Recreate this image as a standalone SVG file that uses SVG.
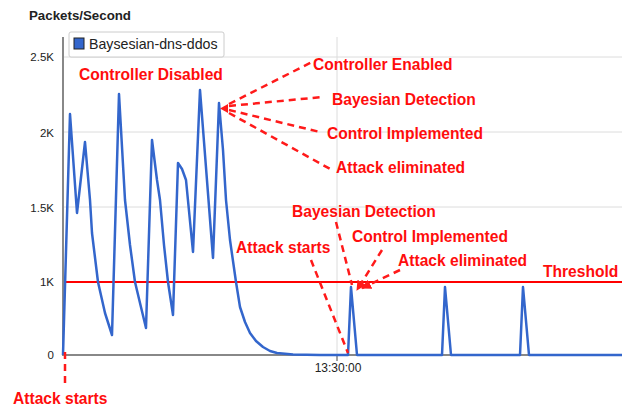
<svg xmlns="http://www.w3.org/2000/svg" width="622" height="407" viewBox="0 0 622 407">
<style>
.grid{stroke:#dcdcdc;stroke-width:1;fill:none}
.axis{stroke:#888;stroke-width:2;fill:none}
.ylab{font-family:"Liberation Sans",Arial,sans-serif;font-size:11.5px;fill:#222;text-anchor:end}
.xlab{font-family:"Liberation Sans",Arial,sans-serif;font-size:12px;fill:#222;text-anchor:middle}
.title{font-family:"Liberation Sans",Arial,sans-serif;font-size:13.3px;font-weight:bold;fill:#222}
.legend{font-family:"Liberation Sans",Arial,sans-serif;font-size:14.2px;fill:#222}
.ann{font-family:"Liberation Sans",Arial,sans-serif;font-size:15.6px;font-weight:bold;fill:#ff0d0d}
.dash{stroke:#ff1a1a;stroke-width:2.5;stroke-dasharray:7,5;fill:none}
.series{stroke:#3366cc;stroke-width:2.5;fill:none;stroke-linejoin:round}
</style>
<defs>
<marker id="ah" viewBox="0 0 10 10" refX="9" refY="5" markerWidth="4" markerHeight="4" orient="auto">
<path d="M0,0 L10,5 L0,10 z" fill="#ff1a1a"/>
</marker>
</defs>
<rect width="622" height="407" fill="#fff"/>
<g id="chart-frame">
<text class="title" x="29" y="20">Packets/Second</text>
<line class="grid" x1="63" y1="57" x2="622" y2="57"/>
<line class="grid" x1="63" y1="132" x2="622" y2="132"/>
<line class="grid" x1="63" y1="207" x2="622" y2="207"/>
<line class="grid" x1="63" y1="282" x2="622" y2="282"/>
<line class="grid" x1="337" y1="37" x2="337" y2="355"/>
<line class="axis" x1="63" y1="37" x2="63" y2="356"/>
<line class="axis" x1="63" y1="355" x2="622" y2="355"/>
<line x1="337" y1="355" x2="337" y2="361" stroke="#444" stroke-width="1"/>
<text class="ylab" x="54" y="61">2.5K</text>
<text class="ylab" x="54" y="137">2K</text>
<text class="ylab" x="54" y="212">1.5K</text>
<text class="ylab" x="54" y="286">1K</text>
<text class="ylab" x="54" y="359">0</text>
<text class="xlab" x="338" y="372">13:30:00</text>
</g>
<g id="legend">
<rect x="69" y="32" width="155" height="25" rx="2" fill="#fff" stroke="#ccc"/>
<rect x="74" y="38" width="10" height="11" fill="#3366cc" stroke="#222" stroke-width="1"/>
<text class="legend" x="89" y="49">Baysesian-dns-ddos</text>
</g>
<g id="threshold">
<line x1="64" y1="282" x2="622" y2="282" stroke="#ff0000" stroke-width="2"/>
<text class="ann" x="543" y="277">Threshold</text>
</g>
<g id="series">
<path class="series" d="M63,355 L70,114 L77,213 L85,142 L90,200 L92,233 L98,282 L105,313 L112,335 L119,94 L125,200 L130,245 L135,282 L140,303 L146,328 L152,140 L157,180 L160,200 L164,245 L168,282 L173,315 L178,163 L182,169 L186,180 L193,252 L200,90 L213,258 L219,103 L223,150 L226,200 L230,240 L236,282 L240,307 L245,322 L250,333 L256,341 L263,347 L270,351 L277,353 L293,354.5 L320,355 L348,355 L351,287 L357,355 L442,355 L445,287 L451,355 L520,355 L523,287 L529,355 L622,355"/>
</g>
<g id="connectors">
<polygon points="220,108.5 228,104 228,113" fill="#ff1a1a"/>
<line class="dash" x1="229" y1="104" x2="312" y2="62"/>
<line class="dash" x1="229" y1="106" x2="322" y2="97"/>
<line class="dash" x1="229" y1="110" x2="320" y2="132"/>
<line class="dash" x1="229" y1="113" x2="332" y2="170"/>
<line class="dash" x1="311" y1="260" x2="348" y2="353"/>
<line class="dash" x1="336" y1="222" x2="352" y2="285"/>
<line class="dash" x1="382" y1="250" x2="357" y2="290" marker-end="url(#ah)"/>
<line class="dash" x1="400" y1="270" x2="362" y2="288" marker-end="url(#ah)"/>
<line class="dash" x1="65" y1="352" x2="65" y2="387"/>
</g>
<g id="annotations">
<text class="ann" x="79" y="80">Controller Disabled</text>
<text class="ann" x="313" y="70">Controller Enabled</text>
<text class="ann" x="332" y="105">Bayesian Detection</text>
<text class="ann" x="327" y="139">Control Implemented</text>
<text class="ann" x="336" y="173">Attack eliminated</text>
<text class="ann" x="292" y="217">Bayesian Detection</text>
<text class="ann" x="352" y="242">Control Implemented</text>
<text class="ann" x="398" y="266">Attack eliminated</text>
<text class="ann" x="236" y="253">Attack starts</text>
<text class="ann" x="13" y="404">Attack starts</text>
</g>
</svg>
